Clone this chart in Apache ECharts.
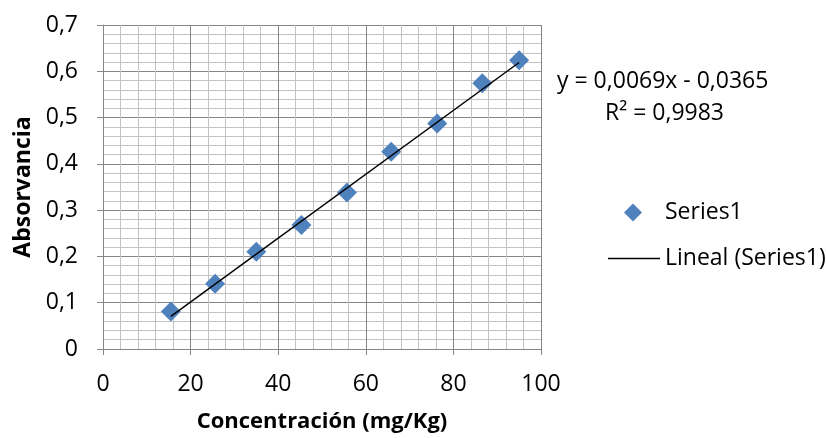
<!DOCTYPE html>
<html>
<head>
<meta charset="utf-8">
<script src="https://cdn.jsdelivr.net/npm/echarts@6/dist/echarts.min.js"></script>
<style>
html,body{margin:0;padding:0;background:#fff;}
#chart{width:826px;height:438px;}
</style>
</head>
<body>
<div id="chart"></div>
<script>
const concentracion = [15.5, 25.6, 35.0, 45.3, 55.7, 65.8, 76.3, 86.6, 95.0];
const absorbancia   = [0.081, 0.141, 0.210, 0.268, 0.338, 0.426, 0.487, 0.574, 0.624];
const trendSlope = 0.0069;
const trendIntercept = -0.0365;
const equationText = 'y = 0,0069x - 0,0365';
const r2Text = 'R² = 0,9983';
const seriesName = 'Series1';
const trendName = 'Lineal (Series1)';
const xTitle = 'Concentración (mg/Kg)';
const yTitle = 'Absorvancia';

const xMinData = Math.min(...concentracion);
const xMaxData = Math.max(...concentracion);
const trendData = [
  [xMinData, trendSlope * xMinData + trendIntercept],
  [xMaxData, trendSlope * xMaxData + trendIntercept]
];
const fontFam = '"Open Sans", sans-serif';
const chart = echarts.init(document.getElementById('chart'));
chart.setOption({
  animation: false,
  backgroundColor: '#fff',
  grid: {left: 103, right: 285, top: 25, bottom: 89, containLabel: false},
  xAxis: {
    type: 'value', min: 0, max: 100, interval: 20,
    name: xTitle, nameLocation: 'middle', nameGap: 62,
    nameTextStyle: {fontFamily: fontFam, fontWeight: 'bold', fontSize: 22, color: '#000'},
    axisLine: {show: true, lineStyle: {color: '#868686', width: 1}},
    axisTick: {show: true, inside: false, length: 6, lineStyle: {color: '#868686'}},
    axisLabel: {fontFamily: fontFam, fontSize: 23, color: '#000', margin: 24},
    splitLine: {show: true, lineStyle: {color: '#868686', width: 1}},
    minorTick: {show: false, splitNumber: 5},
    minorSplitLine: {show: true, lineStyle: {color: '#c3c3c3', width: 1}}
  },
  yAxis: {
    type: 'value', min: 0, max: 0.7, interval: 0.1,
    name: yTitle, nameLocation: 'middle', nameGap: 66, nameRotate: 90,
    nameTextStyle: {fontFamily: fontFam, fontWeight: 'bold', fontSize: 23, color: '#000'},
    axisLine: {show: true, lineStyle: {color: '#868686', width: 1}},
    axisTick: {show: true, inside: false, length: 6, lineStyle: {color: '#868686'}},
    axisLabel: {fontFamily: fontFam, fontSize: 23, color: '#000', margin: 25,
      formatter: v => String(Math.round(v * 10) / 10).replace('.', ',')},
    splitLine: {show: true, lineStyle: {color: '#868686', width: 1}},
    minorTick: {show: false, splitNumber: 5},
    minorSplitLine: {show: true, lineStyle: {color: '#c3c3c3', width: 1}}
  },
  legend: [
    {
      data: [{name: seriesName, icon: 'diamond'}],
      left: 619, top: 196, itemWidth: 18, itemHeight: 18,
      textStyle: {fontFamily: fontFam, fontSize: 23, color: '#000', padding: [0, 0, 0, 18]}
    },
    {
      data: [{name: trendName, icon: 'rect'}],
      left: 603, top: 242, itemWidth: 52, itemHeight: 1.5,
      textStyle: {fontFamily: fontFam, fontSize: 23, color: '#000'}
    }
  ],
  graphic: [
    {type: 'text', left: 557, top: 70, style: {text: equationText, fontFamily: fontFam, fontSize: 23, fill: '#000'}},
    {type: 'text', left: 605, top: 102, style: {text: r2Text, fontFamily: fontFam, fontSize: 23, fill: '#000'}}
  ],
  series: [
    {
      name: trendName, type: 'line', data: trendData, symbol: 'none',
      lineStyle: {color: '#000', width: 1.5}, itemStyle: {color: '#000'}, z: 3
    },
    {
      name: seriesName, type: 'scatter', symbol: 'diamond', symbolSize: 20,
      data: concentracion.map((x, i) => [x, absorbancia[i]]),
      itemStyle: {color: '#4f81bd', opacity: 1}, z: 2
    }
  ]
});
</script>
</body>
</html>
